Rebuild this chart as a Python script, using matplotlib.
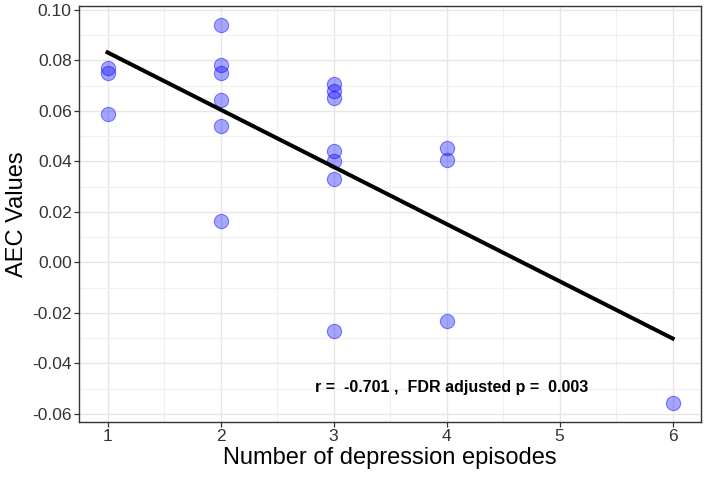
import matplotlib
matplotlib.use("Agg")
import matplotlib.pyplot as plt
import numpy as np

plt.rcParams['font.family'] = ['Liberation Sans', 'DejaVu Sans']

# number of depression episodes per subject and AEC value
episodes = [1, 1, 1,
            2, 2, 2, 2, 2, 2,
            3, 3, 3, 3, 3, 3, 3,
            4, 4, 4,
            6]
aec = [0.0768, 0.0750, 0.0587,
       0.0941, 0.0781, 0.0750, 0.0642, 0.0541, 0.0162,
       0.0705, 0.0680, 0.0650, 0.0440, 0.0400, 0.0330, -0.0272,
       0.0453, 0.0406, -0.0232,
       -0.0556]
x_ticks = [1, 2, 3, 4, 5, 6]
y_ticks = [-0.06, -0.04, -0.02, 0.00, 0.02, 0.04, 0.06, 0.08, 0.10]
stats_text = "r =  -0.701 ,  FDR adjusted p =  0.003"

x = np.array(episodes, dtype=float)
y = np.array(aec)

fig = plt.figure(figsize=(7.08, 4.78), dpi=100)
ax = fig.add_axes([0.112, 0.1178, 0.878, 0.870])

# ggplot style grid
ax.set_xticks(x_ticks)
ax.set_yticks(y_ticks)
ax.set_xticks(np.arange(1.5, 6.0, 1.0), minor=True)
ax.set_yticks(np.arange(-0.05, 0.10, 0.02), minor=True)
ax.grid(True, which='major', color='#E6E6E6', linewidth=1.0)
ax.grid(True, which='minor', color='#F0F0F0', linewidth=0.8)
ax.set_axisbelow(True)

ax.scatter(x, y, s=105, facecolor=(0.0, 0.0, 1.0, 0.35),
           edgecolor=(0.0, 0.0, 1.0, 0.45), linewidth=0.8, zorder=3)

# linear fit line
slope, intercept = np.polyfit(x, y, 1)
xs = np.array([x.min(), x.max()])
ax.plot(xs, slope * xs + intercept, color='black', linewidth=2.9, zorder=4)

ax.text(4.04, -0.0495, stats_text, ha='center', va='center',
        fontsize=11.5, fontweight='bold', color='black')

ax.set_xlim(0.75, 6.25)
ax.set_ylim(-0.0631, 0.1016)
ax.set_yticklabels([f"{v:.2f}" for v in y_ticks])

for s in ax.spines.values():
    s.set_color('#333333')
    s.set_linewidth(1.0)
ax.tick_params(which='major', direction='out', length=3.5, width=0.9,
               color='#333333', labelsize=12.5, labelcolor='#333333', pad=2)
ax.tick_params(which='minor', length=0)

ax.set_xlabel('Number of depression episodes', fontsize=17, labelpad=2)
ax.set_ylabel('AEC Values', fontsize=17, labelpad=3)

fig.savefig('out.png', dpi=100)
